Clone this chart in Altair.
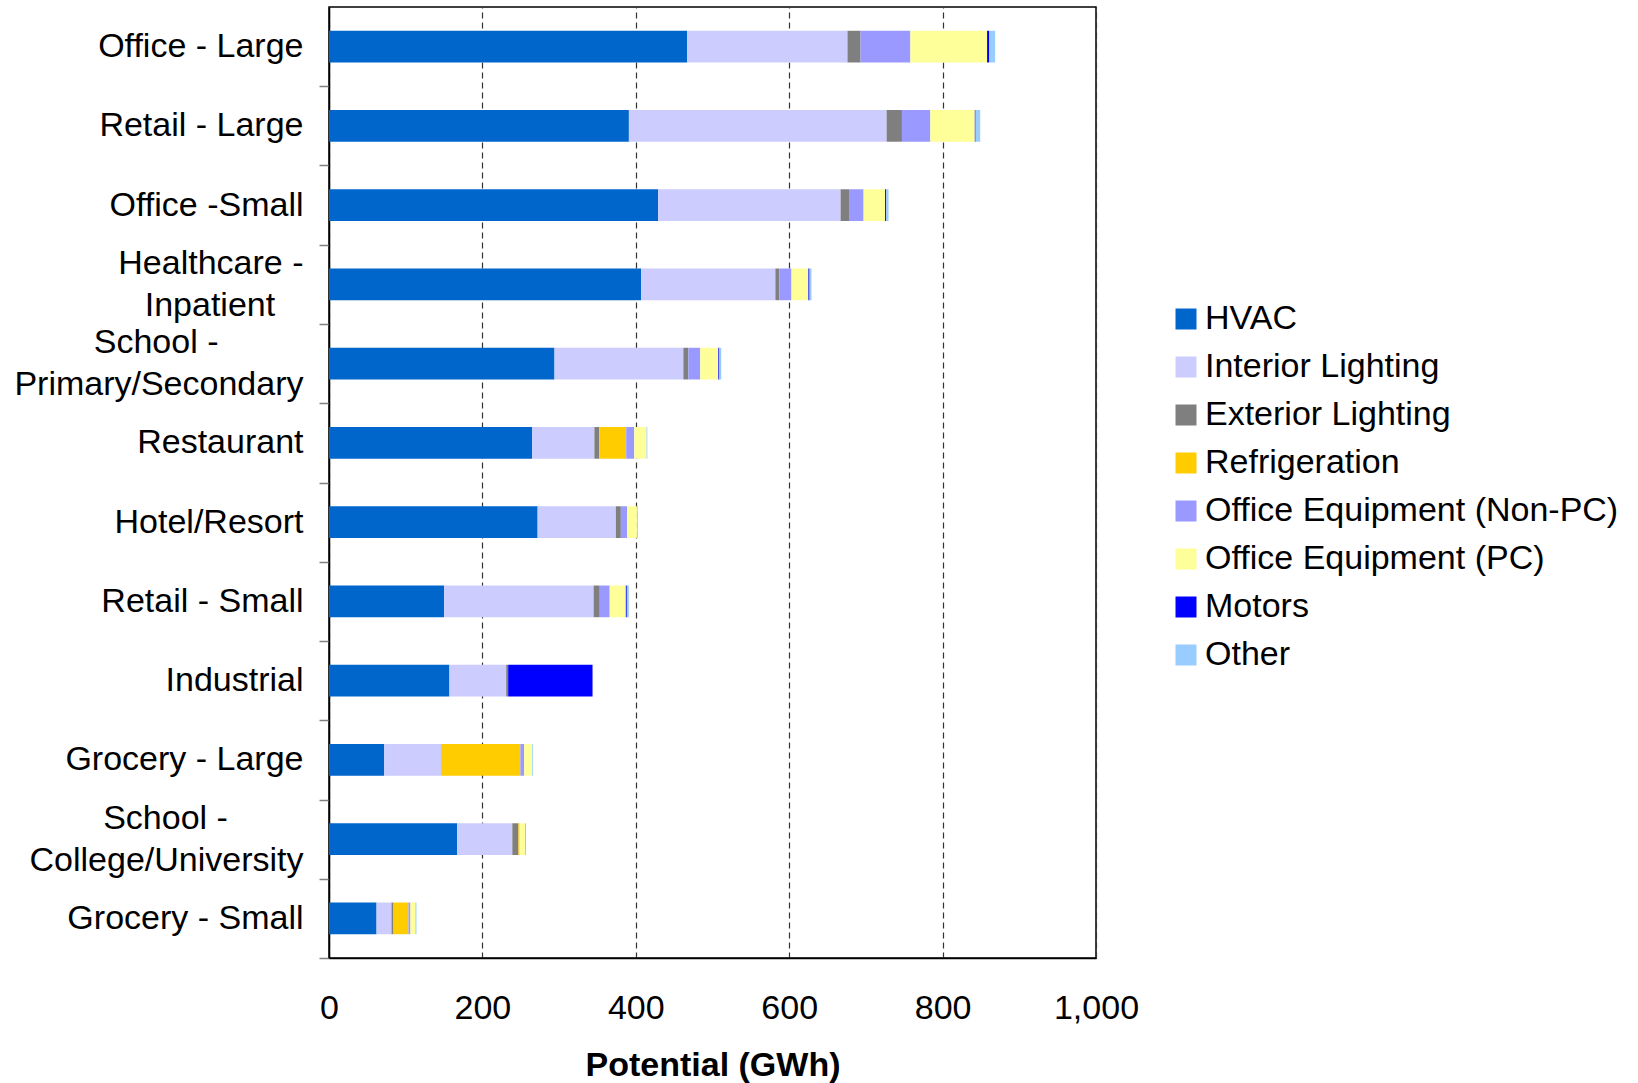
import altair as alt
import pandas as pd

NB = "\u00a0"
ZW = "\u200b"
categories = [
    "Office - Large", "Retail - Large", "Office -Small", "Healthcare -|Inpatient" + NB * 3 + ZW,
    "School -" + NB * 9 + ZW + "|Primary/Secondary", "Restaurant", "Hotel/Resort", "Retail - Small",
    "Industrial", "Grocery - Large", "School -" + NB * 8 + ZW + "|College/University", "Grocery - Small",
]
end_uses = ["HVAC", "Interior Lighting", "Exterior Lighting", "Refrigeration",
            "Office Equipment (Non-PC)", "Office Equipment (PC)", "Motors", "Other"]
colors = ["#0066CC", "#CCCCFF", "#7F7F7F", "#FFCC00", "#9999FF", "#FFFF99", "#0000FF", "#99CCFF"]

hvac       = [467, 391, 429, 407, 294, 265, 272, 150, 157, 72, 167, 62]
int_light  = [209, 336, 238, 175, 168, 81, 102, 195, 74, 74, 72, 19.5]
ext_light  = [17, 20, 11, 5, 6.5, 6.5, 6.5, 8, 2.6, 0.5, 8, 2.6]
refrig     = [0, 0, 0, 0, 0, 35, 0, 0, 0, 103, 1, 19.5]
non_pc     = [65, 37, 19, 16, 15.6, 10.5, 8, 13, 0, 5, 0.5, 2.6]
pc         = [100, 58, 28, 22, 23.5, 16, 13, 21, 0, 10.4, 7, 6.5]
motors     = [2.5, 1, 1.5, 1.5, 1.3, 0, 0, 1.3, 110, 0, 0, 0]
other      = [8, 6, 3, 2.5, 2.5, 1, 1, 2.6, 0, 1, 1.3, 1.3]

series = [hvac, int_light, ext_light, refrig, non_pc, pc, motors, other]
rows = []
for k, (name, vals) in enumerate(zip(end_uses, series)):
    for c, v in zip(categories, vals):
        rows.append({"Segment": c, "EndUse": name, "Order": k, "Potential": v})
df = pd.DataFrame(rows)

FONT = "Liberation Sans"
H = 951
STEP = H / len(categories)

chart = alt.Chart(df).mark_bar().encode(
    y=alt.Y("Segment:N", sort=categories,
            scale=alt.Scale(paddingInner=0.6, paddingOuter=0.3),
            axis=alt.Axis(
                title=None, labelExpr="split(datum.label, '|')",
                labelFont=FONT, labelFontSize=34, labelColor="black",
                labelLineHeight=42, labelLimit=400, labelPadding=16,
                labelBaseline={"condition": {"test": "indexof(datum.value, '|') >= 0",
                                             "value": "line-bottom"}, "value": "middle"},
                tickOffset=STEP / 2, labelOffset=-STEP / 2,
                tickSize=10, tickColor="#808080", tickWidth=1.5,
                domainColor="black", domainWidth=1.5, grid=False)),
    x=alt.X("Potential:Q", stack="zero",
            scale=alt.Scale(domain=[0, 1000], nice=False),
            axis=alt.Axis(
                title="Potential (GWh)", values=[0, 200, 400, 600, 800, 1000], format=",d",
                labelFont=FONT, labelFontSize=34, labelColor="black", labelPadding=33,
                labelFlush=False,
                titleFont=FONT, titleFontSize=34, titleFontWeight="bold", titleColor="black",
                titlePadding=23, ticks=False, domainColor="black", domainWidth=1.5,
                grid=True, gridColor="#333333", gridDash=[6, 4], gridWidth=1.2)),
    color=alt.Color("EndUse:N", scale=alt.Scale(domain=end_uses, range=colors),
                    legend=alt.Legend(
                        title=None, orient="none", legendX=840, legendY=295,
                        symbolType="square", symbolSize=441,
                        labelFont=FONT, labelFontSize=34, labelColor="black",
                        labelOffset=2, rowPadding=14, labelLimit=600)),
    order=alt.Order("Order:Q", sort="ascending"),
).properties(
    width=767, height=H, background="white",
    padding={"left": 329, "top": 7, "right": 542, "bottom": 125},
    autosize=alt.AutoSizeParams(type="none"),
).configure_view(stroke="black", strokeWidth=1.5)

chart.save("out.html", embed_options={"renderer": "svg", "actions": False})
